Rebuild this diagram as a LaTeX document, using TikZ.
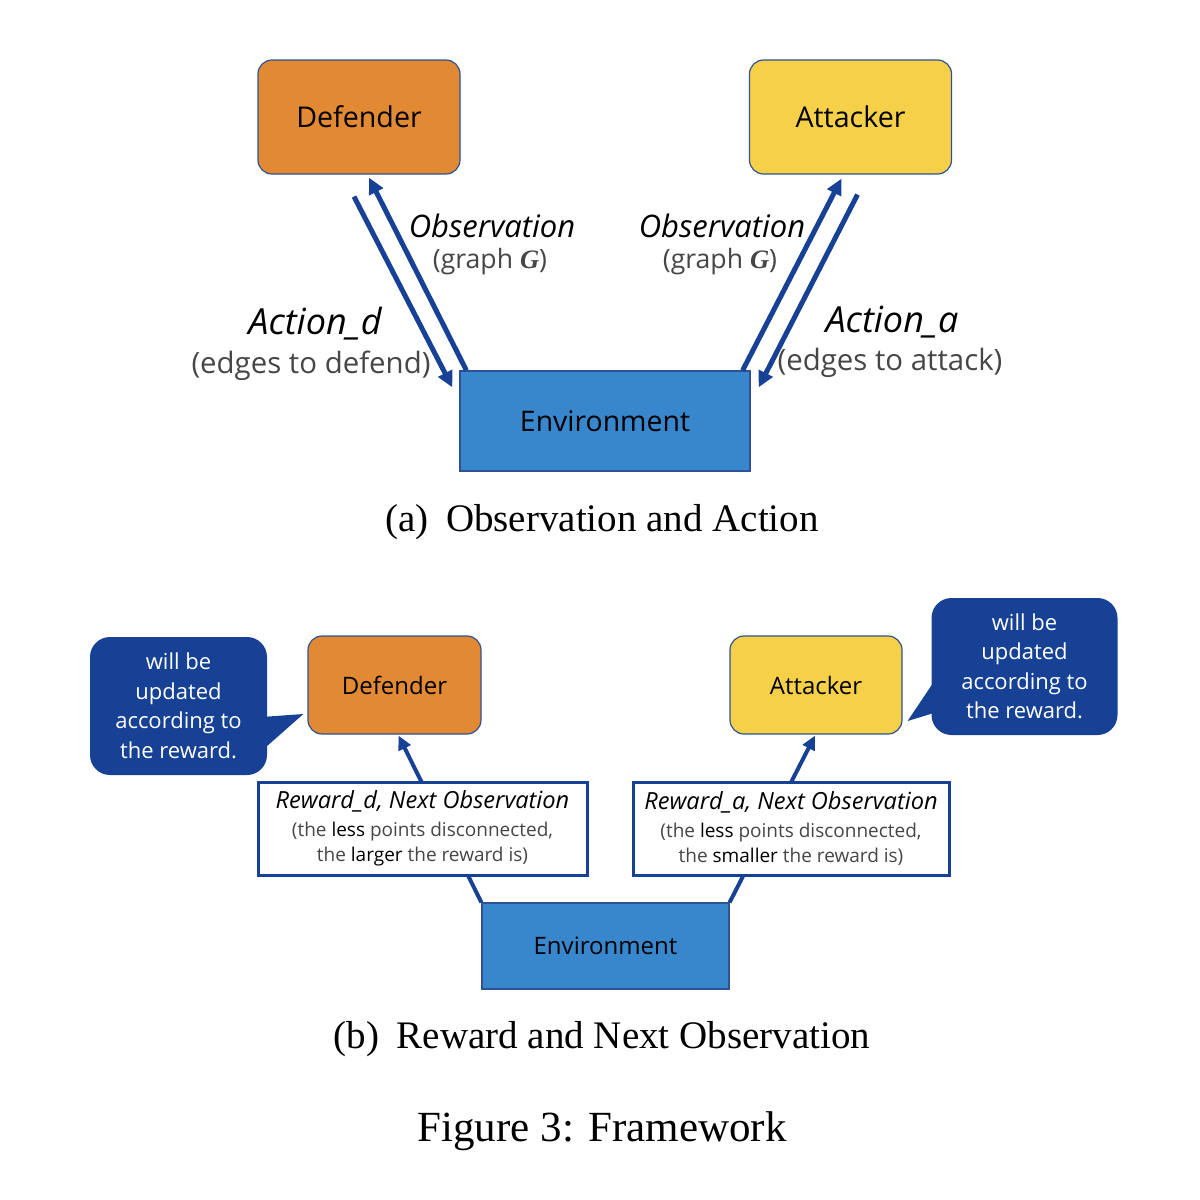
\documentclass[tikz,border=0pt]{standalone}
\usepackage{fontspec}
\setmainfont{Liberation Serif}
\setsansfont{Open Sans}
\usepackage{tikz}
\usetikzlibrary{positioning, arrows.meta, calc}
\definecolor{myorange}{RGB}{226, 137, 51}
\definecolor{myyellow}{RGB}{245, 208, 72}
\definecolor{myenvblue}{RGB}{56, 135, 205}
\definecolor{myedgeblue}{RGB}{47, 82, 150}
\definecolor{mydarkblue}{RGB}{22, 65, 148}
\definecolor{mytextgray}{RGB}{70, 70, 70}
\newcommand{\grG}{{\rmfamily\bfseries\itshape G}}

\begin{document}
\begin{tikzpicture}[x = 0.5pt, y = -0.5pt, font = \sffamily,
  agent/.style = {draw = myedgeblue, line width = 0.6pt, rounded corners = 7pt, text = black},
  env/.style = {draw = myedgeblue, line width = 0.6pt, fill = myenvblue, text = black},
  flow/.style = {draw = mydarkblue, line width = 2.5pt, -{Triangle[length = 8pt, width = 7.5pt]}},
  flowb/.style = {draw = mydarkblue, line width = 2pt, -{Triangle[length = 7pt, width = 6.5pt]}},
  rewardbox/.style = {draw = mydarkblue, line width = 1.5pt, fill = white, align = center, inner sep = 0pt},
  bubble/.style = {fill = mydarkblue, rounded corners = 10pt, text = white, align = center,
    font = \sffamily\fontsize{11}{14.75}\selectfont},
  caption/.style = {font = \rmfamily\fontsize{19.5}{22}\selectfont}]
  \useasboundingbox (0, 0) rectangle (1200, 1200);

  % (a) nodes
  \node [agent, fill = myorange, minimum width = 101pt, minimum height = 57pt,
    font = \sffamily\fontsize{14.3}{16}\selectfont] (def) at (359, 117) {Defender};
  \node [agent, fill = myyellow, minimum width = 101pt, minimum height = 57pt,
    font = \sffamily\fontsize{14.3}{16}\selectfont] (att) at (850.5, 117) {Attacker};
  \node [env, minimum width = 145pt, minimum height = 50pt,
    font = \sffamily\fontsize{14.2}{16}\selectfont] (env) at (605, 421) {Environment};

  % (a) edges
  \draw [flow] ($(def.south) + (-5, 22)$) to ($(env.north west) + (-7, 17)$);
  \draw [flow] ($(env.north west) + (7, 0)$) to ($(def.south) + (10, 3)$);
  \draw [flow] ($(env.north east) + (-8, 0)$) to ($(att.south) + (-9, 4)$);
  \draw [flow] ($(att.south) + (7, 20)$) to ($(env.north east) + (8, 17)$);

  % (a) labels
  \node [font = \sffamily\itshape\fontsize{15.5}{17}\selectfont] (obs-d) at (492, 226) {Observation};
  \node [font = \sffamily\fontsize{13.3}{15}\selectfont, text = mytextgray] (obs-d-sub) at (490, 262) {(graph \grG)};
  \node [font = \sffamily\itshape\fontsize{18}{20}\selectfont] (act-d) at (315, 324) {Action\_d};
  \node [font = \sffamily\fontsize{14.7}{16}\selectfont, text = mytextgray] (act-d-sub) at (311, 366) {(edges to defend)};
  \node [font = \sffamily\itshape\fontsize{15.5}{17}\selectfont] (obs-a) at (722, 226) {Observation};
  \node [font = \sffamily\fontsize{13.3}{15}\selectfont, text = mytextgray] (obs-a-sub) at (720, 262) {(graph \grG)};
  \node [font = \sffamily\itshape\fontsize{18}{20}\selectfont] (act-a) at (892, 322) {Action\_a};
  \node [font = \sffamily\fontsize{14.7}{16}\selectfont, text = mytextgray] (act-a-sub) at (890, 363) {(edges to attack)};

  \node [caption] (cap-a) at (602, 522) {(a)\hspace{0.45em}Observation and Action};

  % (b) nodes
  \node [agent, fill = myorange, minimum width = 86.5pt, minimum height = 49pt,
    font = \sffamily\fontsize{12}{14}\selectfont] (def2) at (394.5, 685) {Defender};
  \node [agent, fill = myyellow, minimum width = 86pt, minimum height = 49pt,
    font = \sffamily\fontsize{12}{14}\selectfont] (att2) at (816, 685) {Attacker};
  \node [env, minimum width = 123.5pt, minimum height = 43pt,
    font = \sffamily\fontsize{12}{14}\selectfont] (env2) at (605.5, 946) {Environment};

  % (b) edges
  \draw [flowb] (env2.north west) to ($(def2.south) + (4, 1)$);
  \draw [flowb] (env2.north east) to ($(att2.south) + (-1, 1)$);

  % reward boxes
  \node [rewardbox, minimum width = 164.5pt, minimum height = 46.5pt] (rew-d) at (422.5, 828.5)
    {{\itshape\fontsize{11.8}{14}\selectfont Reward\_d, Next Observation}\\[2pt]
     {\fontsize{9.5}{12.5}\selectfont\color{mytextgray}(the \textcolor{black}{less} points disconnected,}\\[0.5pt]
     {\fontsize{9.5}{12.5}\selectfont\color{mytextgray}the \textcolor{black}{larger} the reward is)}};
  \node [rewardbox, minimum width = 158pt, minimum height = 46.5pt] (rew-a) at (791, 828.5)
    {{\itshape\fontsize{11.8}{14}\selectfont Reward\_a, Next Observation}\\[2pt]
     {\fontsize{9.5}{12.5}\selectfont\color{mytextgray}(the \textcolor{black}{less} points disconnected,}\\[0.5pt]
     {\fontsize{9.5}{12.5}\selectfont\color{mytextgray}the \textcolor{black}{smaller} the reward is)}};

  % callouts
  \node [bubble, minimum width = 88.5pt, minimum height = 69pt] (note-d) at (178.5, 706)
    {will be\\updated\\according to\\the reward.};
  \node [bubble, minimum width = 93pt, minimum height = 68.5pt] (note-a) at (1024.5, 666.5)
    {will be\\updated\\according to\\the reward.};
  \coordinate (tip-d) at ($(def2.west) + (-4, 29)$);
  \coordinate (tip-a) at ($(att2.east) + (5, 36)$);
  \fill [mydarkblue] ($(note-d.east) + (-6, 11)$) -- (tip-d) -- ($(note-d.east) + (-6, 45)$) -- cycle;
  \fill [mydarkblue] ($(note-a.west) + (6, 10.5)$) -- (tip-a) -- ($(note-a.west) + (6, 45.5)$) -- cycle;

  \node [caption] (cap-b) at (602, 1039) {(b)\hspace{0.45em}Reward and Next Observation};
  \node [caption, font = \rmfamily\fontsize{21.5}{24}\selectfont] (cap-fig) at (602, 1131) {Figure 3: Framework};
\end{tikzpicture}
\end{document}
